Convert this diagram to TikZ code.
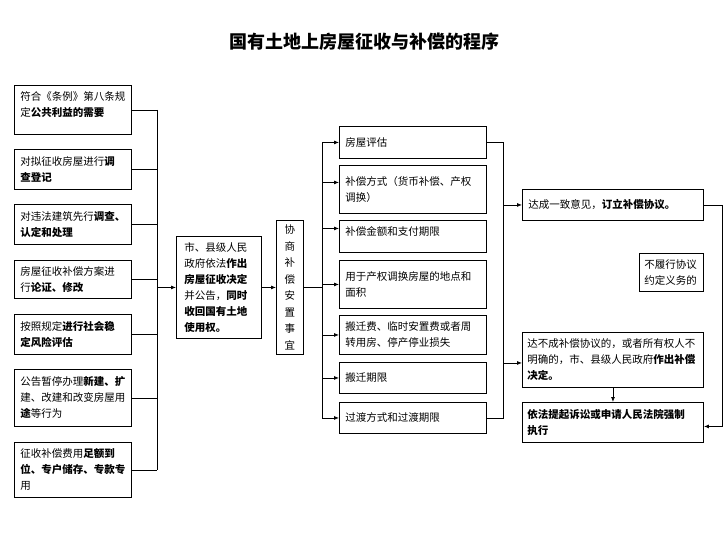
\documentclass[tikz,border=0pt]{standalone}
\usepackage{fontspec}
\setmainfont{Noto Sans CJK SC}
\usetikzlibrary{arrows.meta}
\tikzset{
  box/.style={draw, line width=0.9pt, anchor=north west, inner xsep=6pt, inner ysep=2pt,
    font=\fontsize{10.5}{16}\selectfont, align=left},
  conn/.style={line width=0.8pt},
  arr/.style={line width=0.8pt, -{Latex[length=5pt,width=4pt]}},
}
\newcommand{\bb}[1]{\textbf{#1}}
\begin{document}
\begin{tikzpicture}[x=1pt,y=-1pt]
\useasboundingbox (0,0) rectangle (725,540);
\node[font=\fontsize{18}{20}\selectfont\bfseries] (title) at (364,42) {国有土地上房屋征收与补偿的程序};

% left column
\node[box, minimum width=117, minimum height=49, text width=105] (l1) at (14,85) {符合《条例》第八条规\\定\bb{公共利益的需要}\\[-5pt]\mbox{}};
\node[box, minimum width=117, minimum height=40, text width=105] (l2) at (14,149) {对拟征收房屋进行\bb{调}\\\bb{查登记}};
\node[box, minimum width=117, minimum height=40, text width=105] (l3) at (14,204) {对违法建筑先行\bb{调查、}\\\bb{认定和处理}};
\node[box, minimum width=117, minimum height=38, text width=105] (l4) at (14,260) {房屋征收补偿方案进\\行\bb{论证、修改}};
\node[box, minimum width=117, minimum height=40, text width=105] (l5) at (14,314) {按照规定\bb{进行社会稳}\\\bb{定风险评估}};
\node[box, minimum width=117, minimum height=57, text width=105] (l6) at (14,369) {公告暂停办理\bb{新建、扩}\\建、改建和改变房屋用\\\bb{途}等行为};
\node[box, minimum width=117, minimum height=55, text width=105] (l7) at (14,442) {征收补偿费用\bb{足额到}\\\bb{位、专户储存、专款专}\\用};

\coordinate (busL) at (157,0);
\foreach \n in {l1,l2,l3,l4,l5,l6,l7}{
  \draw[conn] (\n.east) -- (\n.east -| busL);
}
\draw[conn] (l1.east -| busL) -- (l7.east -| busL);

% middle
\node[box, minimum width=83, minimum height=102, text width=69, inner xsep=8pt] (m) at (176,236) {市、县级人民\\政府依法\bb{作出}\\\bb{房屋征收决定}\\并公告，\bb{同时}\\\bb{收回国有土地}\\\bb{使用权。}};
\draw[arr] (m.west -| busL) -- (m.west);

\node[box, minimum width=27, minimum height=134, text width=12, inner xsep=2pt, align=center, font=\fontsize{10.5}{16.5}\selectfont] (v) at (276,220) {协\\商\\补\\偿\\安\\置\\事\\宜};
\draw[arr] (m.east) -- (v.west);

% right column
\node[box, minimum width=147, minimum height=32, text width=135] (r1) at (339,126) {房屋评估};
\node[box, minimum width=147, minimum height=48, text width=135] (r2) at (339,165) {补偿方式（货币补偿、产权\\调换）};
\node[box, minimum width=147, minimum height=32, text width=135] (r3) at (339,220) {补偿金额和支付期限\\[-6pt]\mbox{}};
\node[box, minimum width=147, minimum height=48, text width=135] (r4) at (339,260) {用于产权调换房屋的地点和\\面积};
\node[box, minimum width=147, minimum height=39, text width=135] (r5) at (339,315) {搬迁费、临时安置费或者周\\转用房、停产停业损失};
\node[box, minimum width=147, minimum height=31, text width=135] (r6) at (339,362) {搬迁期限};
\node[box, minimum width=147, minimum height=31, text width=135] (r7) at (339,402) {过渡方式和过渡期限};

\coordinate (busM) at (322,0);
\draw[conn] (v.east) -- (v.east -| busM);
\draw[conn] (r1.west -| busM) -- (r7.west -| busM);
\draw[arr] (r1.west -| busM) -- (r1.west);
\draw[arr] ([yshift=7pt]r2.west -| busM) -- ([yshift=7pt]r2.west);
\draw[arr] ([yshift=8pt]r3.west -| busM) -- ([yshift=8pt]r3.west);
\draw[arr] (r4.west -| busM) -- (r4.west);
\draw[arr] (r5.west -| busM) -- (r5.west);
\draw[arr] (r6.west -| busM) -- (r6.west);
\draw[arr] (r7.west -| busM) -- (r7.west);

\coordinate (busR) at (503,0);
\draw[conn] (r1.east) -- (r1.east -| busR) -- (r7.east -| busR) -- (r7.east);

% far right
\node[box, minimum width=181, minimum height=31, text width=169] (a1) at (522,189) {达成一致意见，\bb{订立补偿协议。}};
\node[box, minimum width=64, minimum height=38, text width=54, inner xsep=5pt] (n1) at (639,253) {不履行协议\\约定义务的};
\node[box, minimum width=181, minimum height=55, text width=171, inner xsep=5pt] (a2) at (522,332) {达不成补偿协议的，或者所有权人不\\明确的，市、县级人民政府\bb{作出补偿}\\\bb{决定。}};
\node[box, minimum width=181, minimum height=40, text width=171, inner xsep=5pt] (a3) at (522,402) {\bb{依法提起诉讼或申请人民法院强制}\\\bb{执行}};

\draw[arr] (a1.west -| busR) -- (a1.west);
\draw[arr] ([yshift=-3pt]a2.west -| busR) -- ([yshift=-3pt]a2.west);
\draw[arr] (a2.south) -- (a3.north);
\coordinate (farR) at (722,0);
\draw[arr] (a1.east) -- (a1.east -| farR) -- ([yshift=-4pt]a3.east -| farR) -- ([yshift=-4pt]a3.east);
\end{tikzpicture}
\end{document}
